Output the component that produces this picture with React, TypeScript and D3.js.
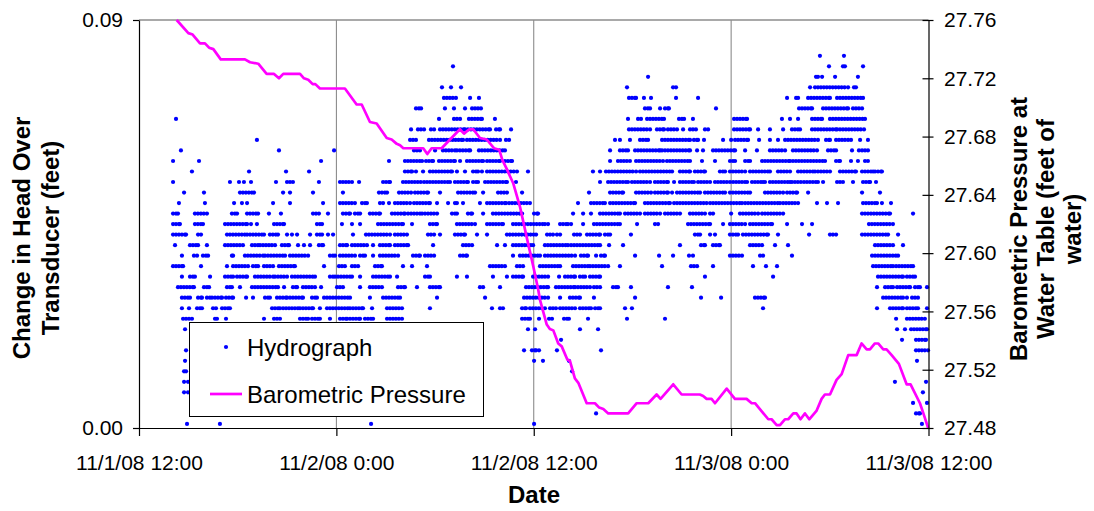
import React, { useEffect, useRef } from "react";
import * as d3 from "d3";

const FONT = "'Liberation Sans', Arial, sans-serif";

// x axis: hours after 11/1/08 12:00
const dateTicks = [0, 12, 24, 36, 48];
const dateLabels = ["11/1/08 12:00", "11/2/08 0:00", "11/2/08 12:00", "11/3/08 0:00", "11/3/08 12:00"];
const headTicks = [0, 0.09];
const baroTicks = [27.48, 27.52, 27.56, 27.6, 27.64, 27.68, 27.72, 27.76];

// barometric pressure (feet of water)
const baroHours = [
  2.29, 3.0, 3.26, 3.71, 4.01, 4.26, 4.52, 4.97, 6.44, 6.75,
  7.25, 7.76, 8.21, 8.51, 8.77, 9.79, 10.03, 10.29, 10.56, 10.72,
  11.0, 12.52, 13.23, 13.54, 14.04, 14.45, 15.06, 15.36, 15.67, 15.87,
  16.07, 17.28, 17.53, 17.79, 18.4, 19.51, 19.76, 20.08, 20.32, 20.73,
  21.14, 21.58, 21.9, 22.09, 22.35, 22.75, 23.16, 23.57, 23.97, 24.27,
  24.38, 24.79, 24.98, 25.19, 25.49, 25.7, 26.04, 26.2, 26.5, 26.71,
  27.22, 27.72, 27.98, 28.23, 28.53, 29.74, 30.26, 30.96, 31.47, 31.71,
  32.48, 32.99, 34.1, 34.3, 34.51, 34.81, 35.02, 35.73, 36.23, 36.94,
  37.25, 37.45, 38.26, 38.46, 38.77, 38.97, 39.27, 39.47, 39.78, 39.98,
  40.22, 40.49, 40.75, 41.2, 41.5, 41.7, 42.01, 42.41, 42.72, 43.12,
  43.63, 43.93, 44.24, 44.44, 44.74, 44.94, 45.25, 45.45, 45.76, 46.2,
  46.67, 46.91, 47.48, 47.72, 47.98,
];
const baroFeet = [
  27.76, 27.751, 27.75, 27.744, 27.744, 27.741, 27.74, 27.733, 27.733, 27.731,
  27.73, 27.723, 27.723, 27.72, 27.723, 27.723, 27.72, 27.719, 27.716, 27.716,
  27.713, 27.713, 27.702, 27.702, 27.69, 27.689, 27.679, 27.678, 27.675, 27.674,
  27.672, 27.672, 27.668, 27.672, 27.672, 27.685, 27.682, 27.685, 27.685, 27.679,
  27.678, 27.672, 27.671, 27.664, 27.658, 27.648, 27.632, 27.611, 27.591, 27.575,
  27.568, 27.551, 27.548, 27.547, 27.538, 27.536, 27.527, 27.526, 27.514, 27.511,
  27.497, 27.497, 27.494, 27.493, 27.49, 27.49, 27.497, 27.497, 27.503, 27.5,
  27.51, 27.503, 27.503, 27.502, 27.5, 27.5, 27.497, 27.507, 27.5, 27.5,
  27.497, 27.497, 27.486, 27.486, 27.482, 27.482, 27.486, 27.486, 27.49, 27.49,
  27.486, 27.49, 27.486, 27.492, 27.5, 27.503, 27.503, 27.513, 27.517, 27.53,
  27.53, 27.538, 27.534, 27.534, 27.538, 27.538, 27.534, 27.534, 27.53, 27.524,
  27.51, 27.51, 27.497, 27.489, 27.48,
];

// transducer reads in steps of ~0.00232 ft; row k of hydroRows = HEAD_BASE + k * HEAD_STEP
const HEAD_BASE = 0.0009;
const HEAD_STEP = 0.00232;
const RUN_STEP = 0.18; // hours between readings inside a run at the same level
// each row: times (hours) of single readings, or [from, to] runs of readings
type Run = number | [number, number];
const hydroRows: Run[][] = [
  [2.92, 4.92, 14.11, 24.02, 47.6],
  [27.79, [47.24, 47.48]],
  [47.06, 47.91],
  [2.74, 2.98, 47.66],
  [2.74, 2.98, 45.96, 47.85],
  [[2.74, 2.86], 26.33],
  [2.8, 24.02, 24.56, 26.14, 47.3],
  [2.86, 23.41, [23.89, 24.14], 24.32, 25.41, 28.09, [47.24, 47.97]],
  [25.66, 46.39, [47.24, 47.85]],
  [2.8, 23.65, 24.08, 26.81, 27.91, 46.09, 46.57, [46.94, 47.91]],
  [[2.68, 3.22], 4.62, 4.74, 5.29, 7.6, [8.21, 8.57], [9.79, 10.28], [10.52, 11.0], 11.61, [12.22, 12.65], [12.83, 13.44], [13.74, 14.23], [15.08, 15.99], [23.29, 23.77], 24.32, [24.93, 25.11], [25.84, 26.14], 27.3, 29.67, 31.98, 46.03, [46.69, 47.78]],
  [2.61, 3.04, [3.53, 3.83], [4.5, 4.68], [5.05, 5.53], [8.09, 8.57], [8.76, 9.79], [9.97, 10.58], 11.0, [11.43, 12.83], [13.01, 13.62], 14.17, [15.08, 15.99], 17.69, 21.46, [21.95, 22.13], [23.29, 23.53], [23.77, 24.68], [24.99, 25.35], [25.6, 26.51], [26.81, 27.48], [27.73, 28.03], 29.55, 29.97, 37.94, 44.87, [45.66, 46.45], [46.69, 47.36], 47.91],
  [[2.61, 3.1], [3.59, 3.83], [4.13, 4.44], [4.62, 5.05], [5.29, 5.72], 6.51, 6.93, [7.66, 7.96], [8.39, 9.0], [9.18, 9.97], [10.52, 10.82], [11.25, 12.83], 14.04, [14.84, 15.87], 18.12, 21.04, [23.41, 24.87], 25.6, [26.2, 26.81], 27.66, 30.16, 34.17, 35.39, [37.45, 38.06], [45.24, 46.45], 46.69, [47.0, 47.36]],
  [[2.37, 3.34], [3.95, 4.26], [5.35, 5.65], 6.14, [6.87, 8.45], 8.82, [9.36, 9.61], [9.97, 10.7], 11.07, [12.04, 12.4], 13.44, [14.04, 14.77], [15.75, 16.17], 16.9, [17.69, 18.3], [20.73, 20.92], 21.95, [23.53, 24.87], [25.35, 26.51], [26.69, 27.42], [27.66, 28.03], [28.82, 29.12], 29.91, 32.16, 33.62, 44.87, [45.36, 45.84], [46.09, 46.88], [47.18, 47.48], 47.91],
  [2.61, [3.1, 3.4], 4.32, [5.23, 5.72], [5.96, 6.57], [7.05, 8.15], [8.27, 9.0], [9.3, 10.7], [11.61, 11.92], [12.1, 12.95], 13.44, [14.23, 15.26], 15.69, [17.39, 17.69], 19.33, 19.94, 21.52, 22.37, [22.74, 23.35], [23.96, 24.87], 25.54, [25.9, 26.51], [26.81, 27.12], [27.42, 28.03], 34.41, 38.55, [44.93, 46.45], [46.69, 47.18]],
  [[2.07, 2.68], 3.77, 5.35, [5.72, 6.63], [6.93, 7.24], [7.6, 8.15], [8.51, 9.48], 11.25, [12.16, 12.52], [12.95, 13.32], [14.35, 14.77], 16.05, 16.6, 17.51, [21.34, 22.25], [22.98, 23.35], [24.38, 25.6], [26.39, 27.42], [27.6, 28.52], 29.24, 31.8, [33.56, 33.93], 34.9, 37.33, 38.12, 38.79, [44.63, 45.84], [46.03, 47.06]],
  [2.61, [3.34, 3.53], [3.89, 4.2], [5.65, 5.72], [6.44, 7.54], [7.66, 8.88], [9.18, 10.28], [11.61, 11.92], [12.22, 13.13], [13.44, 13.74], 14.23, [14.65, 15.75], [16.66, 17.08], [17.39, 17.94], [19.52, 19.94], 22.74, [23.16, 24.38], [24.68, 26.51], [26.87, 27.3], 27.79, [28.09, 28.33], 30.16, 31.62, 32.47, 33.44, 33.68, [35.93, 36.66], [37.76, 37.94], 39.7, [44.57, 46.15]],
  [2.19, [3.1, 3.59], 4.13, [5.23, 6.32], [6.87, 7.36], [7.54, 8.27], [8.69, 9.12], 9.67, 10.03, 10.4, [10.94, 11.19], [12.22, 12.65], [12.95, 13.86], 14.23, [14.65, 15.26], [15.56, 16.36], 17.88, [19.7, 20.25], 21.77, 22.25, [22.74, 23.96], [24.68, 26.08], [26.27, 28.03], 28.58, 29.43, 32.89, [34.17, 34.41], [34.9, 35.32], [37.15, 37.88], 38.67, 39.46, [44.75, 45.84], 46.45],
  [[2.07, 2.86], [3.59, 3.77], [5.35, 6.57], [6.75, 7.6], [7.96, 8.45], 9.0, 9.3, 9.61, 10.4, [10.82, 11.13], 11.49, 11.8, 13.01, [13.8, 15.26], [15.56, 16.29], [17.57, 17.94], 18.3, [19.21, 19.82], 20.55, 21.16, [22.37, 24.14], [24.81, 25.17], [25.41, 25.6], [26.45, 26.81], [27.24, 28.03], [28.33, 28.64], 29.91, [33.8, 34.11], 34.72, 35.02, [35.93, 36.42], [36.72, 38.24], 38.85, 40.74, [42.01, 42.38], [43.96, 45.54], 46.15],
  [[2.07, 2.49], [3.4, 3.89], [5.23, 6.57], 6.81, 7.17, [8.21, 8.82], [10.82, 11.13], 12.34, 12.95, 13.44, [14.53, 16.05], 16.6, [17.69, 18.12], [19.33, 20.43], [21.16, 22.13], [22.74, 24.68], 24.87, [25.6, 26.08], 26.27, 27.0, [27.66, 29.24], 30.28, [31.37, 31.56], [33.38, 34.72], 35.51, [35.93, 36.85], [37.15, 38.49], 39.4, 40.31, 40.92, [44.38, 45.84]],
  [[2.07, 2.37], [3.4, 4.13], [5.65, 5.96], [6.57, 7.24], 7.9, 8.63, [10.58, 10.94], 11.49, [12.4, 12.83], [13.13, 13.44], [14.04, 14.65], [15.38, 16.17], [16.36, 17.21], [17.39, 18.12], [19.03, 19.33], [20.0, 20.25], 20.92, [21.52, 23.29], [24.02, 24.26], 26.39, 27.0, 27.48, [28.03, 29.24], [29.55, 30.46], [30.76, 31.68], [31.98, 32.89], [33.5, 34.41], [34.72, 34.9], 36.0, [36.54, 37.64], [37.88, 39.16], [43.96, 45.66], 47.06],
  [2.43, 4.01, 5.78, 6.26, 6.57, 8.15, 9.18, 11.19, [12.22, 13.13], [13.56, 13.86], [14.65, 14.84], 15.2, [15.56, 16.48], [16.72, 17.69], 18.12, 18.79, [19.21, 19.33], 19.7, 20.73, [21.16, 22.31], [22.5, 23.77], 26.69, [27.48, 28.33], [28.64, 30.16], [30.76, 32.28], [32.53, 34.72], [34.9, 36.66], [36.85, 38.97], [39.16, 40.07], 41.22, 41.83, 42.5, [44.02, 44.87], 45.17, 45.72],
  [2.74, 3.95, [6.14, 6.99], 8.76, 9.18, 10.58, 12.4, [14.59, 15.08], [15.81, 16.54], [16.78, 17.57], 18.3, [19.4, 20.43], 20.92, [21.83, 22.37], 23.29, 27.36, [28.64, 29.43], [30.22, 31.13], [31.37, 32.16], 32.41, [32.71, 34.11], [34.41, 35.63], [35.93, 37.15], [38.06, 39.16], [39.4, 40.01], 40.68, 43.96, 45.05],
  [2.07, 5.53, 6.08, 6.38, 6.81, 8.33, [9.0, 9.36], 10.94, [12.22, 12.95], 13.38, [14.84, 15.26], [16.05, 17.33], [17.51, 18.91], [19.21, 20.0], [20.31, 20.61], [21.04, 22.37], 22.92, 28.03, [28.52, 29.73], [29.97, 31.07], [31.37, 32.16], 32.53, [32.89, 33.74], [33.99, 34.72], [35.02, 35.93], [36.12, 36.97], [37.27, 37.94], 38.06, [38.36, 39.58], [39.7, 40.43], [40.61, 41.28], 41.59, [42.44, 42.8], 43.41, [44.02, 44.45], 44.81],
  [3.22, 6.69, 8.94, 10.34, [16.17, 16.6], 16.84, 17.27, [17.69, 19.03], 19.33, 19.82, [20.31, 20.61], 20.85, [21.16, 22.98], 23.65, 27.6, 28.03, [28.39, 30.22], [30.46, 32.41], [32.89, 33.5], [33.8, 34.41], [35.32, 35.63], [35.93, 36.85], [37.15, 38.36], [38.85, 39.58], [40.07, 41.1], [41.28, 42.01], [42.62, 43.59], [43.96, 44.63], [44.75, 45.17]],
  [2.07, 3.65, 11.07, 15.2, [16.17, 17.21], [17.45, 17.88], [18.24, 19.21], 19.52, [19.94, 20.92], [21.16, 21.95], [22.25, 22.68], 28.64, [29.12, 29.85], [30.22, 31.86], [32.1, 33.5], 34.23, 35.02, [35.93, 36.24], [36.85, 37.15], [37.88, 39.58], [39.76, 41.71], [42.38, 42.62], 43.29, 43.71, [44.14, 44.32]],
  [2.55, 8.51, 11.86, [16.72, 17.08], 18.0, [18.48, 19.21], [19.33, 20.13], [20.67, 22.25], 28.64, [29.24, 29.73], [30.16, 31.68], [31.8, 33.5], 33.93, 34.29, [34.9, 36.24], 36.85, 37.57, [38.36, 39.28], [39.76, 41.22], [41.89, 42.38], 43.35, 43.77, [43.96, 44.32]],
  [7.17, [16.48, 16.84], [17.63, 19.7], [19.94, 21.95], [22.31, 22.5], 28.94, 29.24, 29.85, [30.46, 30.95], [31.8, 33.5], [33.74, 33.99], 34.35, 35.51, 36.0, [36.24, 37.03], 37.7, 38.36, 38.85, [39.28, 41.28], [41.77, 42.01], [42.38, 43.11], 43.29, 43.84, 44.32],
  [16.54, [16.96, 17.33], [17.75, 17.94], [18.3, 19.82], [20.0, 21.34], [21.71, 21.95], 22.62, [29.79, 31.07], [31.49, 31.92], [32.16, 32.71], 33.08, [33.5, 33.86], [34.41, 34.6], [36.18, 37.15], 37.64, 38.36, 39.16, [39.7, 40.19], [40.92, 42.44], [42.62, 44.08]],
  [2.25, 18.24, [19.15, 19.52], [20.06, 20.85], 21.64, 29.73, [30.34, 30.52], [30.89, 31.92], [32.83, 33.14], 33.68, [36.18, 36.97], 39.09, 39.58, 40.07, [40.92, 41.53], [42.01, 44.14]],
  [[16.84, 17.15], 18.6, 19.15, 19.82, [20.25, 20.79], [30.76, 31.07], 31.68, [31.98, 32.22], 35.08, [40.13, 40.92], [41.59, 43.11], [43.41, 43.96]],
  [[18.54, 19.27], 20.13, 20.67, [29.79, 30.22], 30.7, 31.13, 32.65, 33.99, 39.4, [39.95, 40.07], [40.68, 42.01], [42.44, 44.02]],
  [18.42, 18.97, 19.58, 29.67, [32.47, 32.65], 40.8, [41.1, 43.11], [43.47, 43.59]],
  [30.95, [41.16, 41.28], 41.53, 42.32, 43.71],
  [19.09, 41.95, [42.8, 42.92], 44.02],
  [41.4, 42.86],
];

const W = 1094;
const H = 511;
const left = 139;
const right = 928.5;
const top = 20;
const bottom = 428;

const App = () => {
  const svgRef = useRef<SVGSVGElement>(null);

  useEffect(() => {
    const svg = d3.select(svgRef.current);
    svg.selectAll("*").remove();

    const x = d3.scaleLinear().domain([0, 48]).range([left, right]);
    const yHead = d3.scaleLinear().domain([0, 0.09]).range([bottom, top]);
    const yBaro = d3.scaleLinear().domain([27.48, 27.76]).range([bottom, top]);

    // unpack hydrograph readings
    const pts: { h: number; ft: number }[] = [];
    hydroRows.forEach((row, k) => {
      const ft = HEAD_BASE + k * HEAD_STEP;
      row.forEach((r) => {
        if (typeof r === "number") pts.push({ h: r, ft });
        else {
          for (let t = r[0]; t < r[1] - 0.05; t += RUN_STEP) pts.push({ h: t, ft });
          pts.push({ h: r[1], ft });
        }
      });
    });
    const baro = baroHours.map((h, i) => ({ h, p: baroFeet[i] }));

    // gridlines + top border
    svg
      .append("g")
      .selectAll("line")
      .data(dateTicks.slice(1, -1))
      .join("line")
      .attr("x1", (d) => x(d))
      .attr("x2", (d) => x(d))
      .attr("y1", top)
      .attr("y2", bottom)
      .attr("stroke", "#808080")
      .attr("stroke-width", 1);
    svg
      .append("line")
      .attr("x1", left)
      .attr("x2", right)
      .attr("y1", top)
      .attr("y2", top)
      .attr("stroke", "#8c8c8c")
      .attr("stroke-width", 1.5);

    // hydrograph dots
    svg
      .append("g")
      .selectAll("circle")
      .data(pts)
      .join("circle")
      .attr("cx", (d) => x(d.h))
      .attr("cy", (d) => yHead(d.ft))
      .attr("r", 2.1)
      .attr("fill", "#0000ff");

    // barometric line
    const line = d3
      .line<{ h: number; p: number }>()
      .x((d) => x(d.h))
      .y((d) => yBaro(d.p));
    svg
      .append("path")
      .datum(baro)
      .attr("d", line)
      .attr("fill", "none")
      .attr("stroke", "#ff00ff")
      .attr("stroke-width", 2.7)
      .attr("stroke-linejoin", "round");

    // axes
    const styleAxis = (g: any) => {
      g.attr("font-size", 21).attr("font-family", FONT);
      g.selectAll("path, line").attr("stroke", "#000").attr("stroke-width", 1.2);
      g.selectAll("text").attr("fill", "#000");
    };
    svg
      .append("g")
      .attr("transform", `translate(${left},0)`)
      .call(
        d3.axisLeft(yHead).tickValues(headTicks).tickFormat(d3.format(".2f")).tickSize(6).tickSizeOuter(0).tickPadding(10)
      )
      .call(styleAxis);
    svg
      .append("g")
      .attr("transform", `translate(0,${bottom})`)
      .call(
        d3
          .axisBottom(x)
          .tickValues(dateTicks)
          .tickFormat((d, i) => dateLabels[i])
          .tickSize(8)
          .tickSizeOuter(0)
          .tickPadding(19)
      )
      .call(styleAxis);
    const rAxis = svg
      .append("g")
      .attr("transform", `translate(${right},0)`)
      .call(
        d3.axisRight(yBaro).tickValues(baroTicks).tickFormat(d3.format(".2f")).tickSize(5).tickSizeOuter(0).tickPadding(10.5)
      )
      .call(styleAxis);
    rAxis.selectAll(".tick line").attr("x1", -6);

    // titles
    const title = (txt: string, tx: number, ty: number, rot: number) =>
      svg
        .append("text")
        .attr("transform", `translate(${tx},${ty}) rotate(${rot})`)
        .attr("text-anchor", "middle")
        .attr("font-family", FONT)
        .attr("font-weight", "bold")
        .attr("font-size", 24)
        .text(txt);
    title("Change in Head Over", 29.5, 238, -90);
    title("Transducer (feet)", 59, 238, -90);
    title("Barometric Pressure at", 1027, 229, -90);
    title("Water Table (feet of", 1054, 229, -90);
    title("water)", 1081, 229, -90);
    title("Date", 534, 503, 0);

    // legend
    const lg = svg.append("g");
    lg.append("rect")
      .attr("x", 189.5)
      .attr("y", 322.5)
      .attr("width", 294)
      .attr("height", 94)
      .attr("fill", "#fff")
      .attr("stroke", "#000")
      .attr("stroke-width", 1);
    lg.append("circle").attr("cx", 226).attr("cy", 347).attr("r", 2.1).attr("fill", "#0000ff");
    lg.append("line")
      .attr("x1", 210)
      .attr("x2", 242)
      .attr("y1", 394)
      .attr("y2", 394)
      .attr("stroke", "#ff00ff")
      .attr("stroke-width", 2.7);
    const lt = [
      ["Hydrograph", 355.5],
      ["Barometric Pressure", 402.5],
    ];
    lt.forEach(([t, y]) =>
      lg
        .append("text")
        .attr("x", 247)
        .attr("y", y as number)
        .attr("font-family", FONT)
        .attr("font-size", 24)
        .text(t as string)
    );
  }, []);

  return (
    <svg
      ref={svgRef}
      width={W}
      height={H}
      style={{ position: "absolute", left: 0, top: 0, background: "#fff" }}
    />
  );
};

export default App;
